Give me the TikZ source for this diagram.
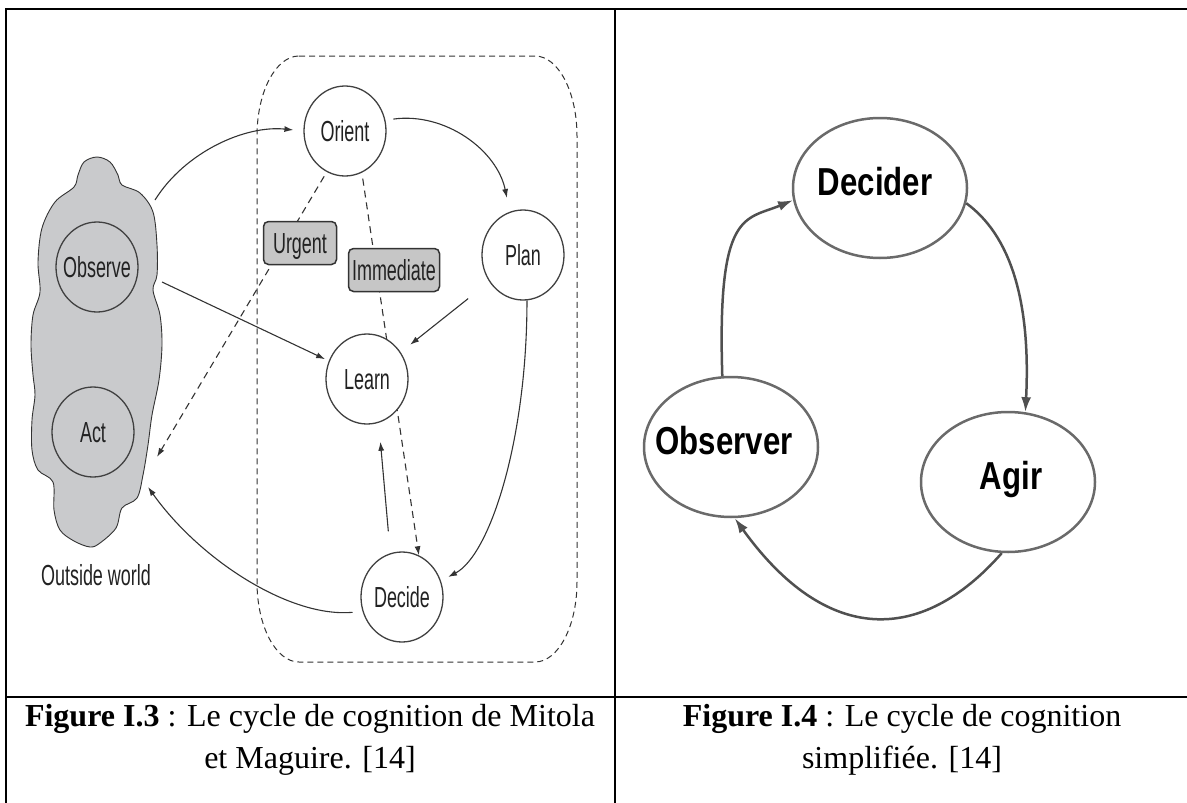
\documentclass[tikz,border=0pt]{standalone}
\usepackage{fontspec}
\setmainfont{Liberation Serif}
\newfontfamily\condf[FakeStretch=0.62]{Liberation Sans}
\newfontfamily\widef[FakeStretch=0.8]{Liberation Sans}
\usetikzlibrary{arrows.meta,shapes.geometric}
\newcommand{\ctxt}[2]{\makebox[0pt]{\raisebox{#1}[0pt][0pt]{#2}}}
\newcommand{\ctxs}[3]{\makebox[0pt]{\hspace*{#1}\raisebox{#2}[0pt][0pt]{#3}}}
\definecolor{ldark}{HTML}{333333}
\definecolor{lgray}{HTML}{404040}
\definecolor{cloudgray}{HTML}{C9CACC}
\definecolor{taggray}{HTML}{C6C6C6}
\definecolor{rgray}{HTML}{6A6A6A}
\definecolor{rline}{HTML}{505050}
\definecolor{ltext}{HTML}{222222}
\pgfdeclarelayer{bg}
\pgfdeclarelayer{edges}
\pgfsetlayers{bg,edges,main}
\begin{document}
\begin{tikzpicture}[x=1pt,y=-1pt,
  lfont/.style={font=\condf\fontsize{29}{29}\selectfont, text=ltext},
  lcirc/.style={ellipse, draw=lgray, line width=1.3pt, fill=white, minimum width=82pt, minimum height=90pt, inner sep=0pt, lfont},
  grcirc/.style={lcirc, fill=cloudgray},
  tagbox/.style={rectangle, rounded corners=5pt, draw=ldark, line width=1.5pt, fill=taggray, minimum width=73pt, minimum height=43pt, inner sep=0pt, lfont},
  rell/.style={ellipse, draw=rgray, line width=2.5pt, fill=white, minimum width=174pt, minimum height=140pt, inner sep=0pt, font=\widef\bfseries\fontsize{39}{39}\selectfont},
  larr/.style={draw=ldark, line width=1.1pt, -{Latex[length=9pt,width=6pt]}},
  ldash/.style={larr, dash pattern=on 7pt off 5pt},
  rarr/.style={draw=rline, line width=2.5pt, -{Latex[length=15pt,width=10pt]}},
  tline/.style={line width=2pt, black},
  capfont/.style={font=\fontsize{32}{38}\selectfont, anchor=base, inner sep=0pt}
]
\useasboundingbox (0,0) rectangle (1187,803);

% table
\draw[tline] (5,9) -- (1187,9);
\draw[tline] (6,8) -- (6,803);
\draw[tline] (615,8) -- (615,803);
\draw[tline] (5,697) -- (1187,697);

% ---------- left figure ----------
\begin{pgfonlayer}{bg}
\draw[draw=ldark, line width=0.9pt, fill=cloudgray] plot[smooth cycle, tension=0.55] coordinates {
 (97,157) (110,162) (118,175) (122,185) (140,193) (153,212) (157,245) (157,275) (153,290)
 (160,315) (162,345) (159,380) (152,415) (148,445) (143,475) (137,498) (122,508) (116,528)
 (100,543) (90,547) (74,541) (60,530) (54,510) (53,482) (38,470) (32,450) (32,420) (35,395)
 (33,375) (31,345) (33,315) (40,292) (38,262) (42,228) (55,202) (74,187) (78,175) (84,162)};
\draw[draw=ldark, line width=1pt, dash pattern=on 6pt off 4pt]
 (299,56) -- (535,56) arc[start angle=-90, end angle=0, x radius=42, y radius=80]
 -- (577,582) arc[start angle=0, end angle=90, x radius=42, y radius=80]
 -- (299,662) arc[start angle=90, end angle=180, x radius=42, y radius=80]
 -- (257,136) arc[start angle=180, end angle=270, x radius=42, y radius=80] -- cycle;
\end{pgfonlayer}

\node[lcirc] (orient) at (345,131) {\ctxt{-10.4pt}{Orient}};
\node[lcirc] (plan) at (523,255) {\ctxt{-10.4pt}{Plan}};
\node[lcirc] (learn) at (367,379) {\ctxt{-10.4pt}{Learn}};
\node[lcirc] (decide) at (402,597) {\ctxt{-10.4pt}{Decide}};
\node[grcirc] (observe) at (97,267) {\ctxt{-10.4pt}{Observe}};
\node[grcirc] (act) at (93,432) {\ctxt{-10.4pt}{Act}};
\node[tagbox] (urgent) at (300,243) {\ctxt{-10.4pt}{Urgent}};
\node[tagbox, minimum width=91pt] (immediate) at (394,270) {\ctxt{-10.4pt}{Immediate}};
\node[lfont, anchor=base, inner sep=0pt] (outside) at (96,585) {Outside world};

\coordinate (obsA) at (155,200);
\coordinate (obsB) at (162,282);
\coordinate (actA) at (157,457);
\coordinate (actB) at (148,487);

\begin{pgfonlayer}{edges}
\draw[larr, shorten >=10pt] (obsA) .. controls (185,152) and (245,125) .. (orient.west);
\draw[larr, shorten <=8pt, shorten >=14pt] (orient.15) .. controls (445,112) and (497,150) .. (plan.107);
\draw[ldash, shorten <=5pt] (orient.-114) -- (actA);
\draw[ldash, shorten <=6pt] (orient.-68) -- (decide.68);
\draw[larr, shorten >=4pt] (obsB) -- (learn);
\draw[larr, shorten <=27pt, shorten >=12pt] (plan) -- (learn);
\draw[larr] (plan.-85) .. controls (527,440) and (490,555) .. (448,577);
\draw[larr, shorten <=22pt, shorten >=19pt] (decide.105) -- (learn.-75);
\draw[larr, shorten <=10pt] (decide.200) .. controls (290,618) and (200,560) .. (actB);
\end{pgfonlayer}

% ---------- right figure ----------
\node[rell] (decider) at (880,188) {\ctxs{-10pt}{-7pt}{Decider}};
\node[rell] (observer) at (731,447) {\ctxs{-14pt}{-7pt}{Observer}};
\node[rell] (agir) at (1008,482) {\ctxs{6pt}{-7pt}{Agir}};
\begin{pgfonlayer}{edges}
\draw[rarr] (observer.97) .. controls (717,210) and (745,220) .. (decider.188);
\draw[rarr] (decider.-10) .. controls (1010,235) and (1031,300) .. (agir.76);
\draw[rarr] (agir.-95) .. controls (921,645) and (826,645) .. (observer.-87);
\end{pgfonlayer}

% ---------- captions ----------
\node[capfont] (cap3a) at (310,726) {\textbf{Figure I.3} : Le cycle de cognition de Mitola};
\node[capfont] (cap3b) at (310,768) {et Maguire. [14]};
\node[capfont] (cap4a) at (902,726) {\textbf{Figure I.4} : Le cycle de cognition};
\node[capfont] (cap4b) at (902,768) {simplifiée. [14]};
\end{tikzpicture}
\end{document}
